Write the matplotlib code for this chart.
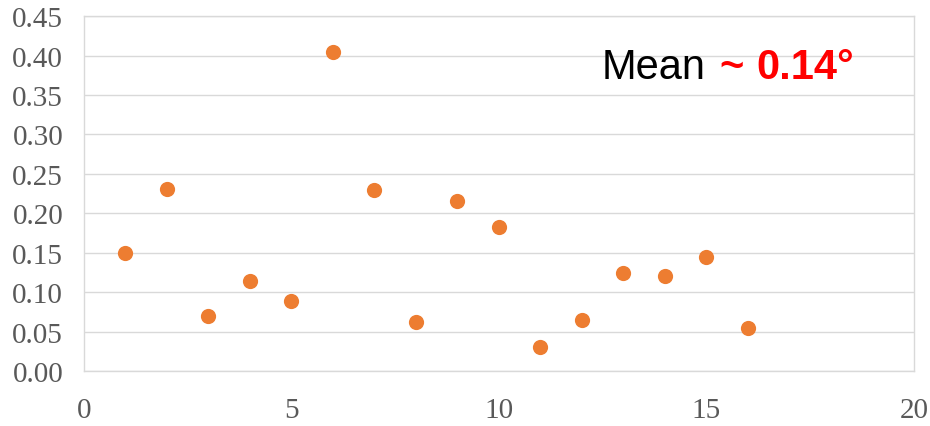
import matplotlib.pyplot as plt
import numpy as np

# run number vs. offset
run = [1, 2, 3, 4, 5, 6, 7, 8, 9, 10, 11, 12, 13, 14, 15, 16]
offset = [0.149, 0.231, 0.070, 0.114, 0.089, 0.405, 0.229, 0.062,
          0.215, 0.183, 0.031, 0.065, 0.124, 0.120, 0.145, 0.055]

xticks = [0, 5, 10, 15, 20]
yticks = np.arange(0, 0.46, 0.05)

fig = plt.figure(figsize=(9.3, 4.27), dpi=100)
ax = fig.add_axes([0.0903, 0.1288, 0.8925, 0.8312])

ax.scatter(run, offset, s=120, color='#ED7D31', zorder=3, linewidths=0)

ax.set_xlim(0, 20)
ax.set_ylim(0, 0.45)
ax.set_xticks(xticks)
ax.set_yticks(yticks)
ax.set_yticklabels(['%.2f' % v for v in yticks])
ax.grid(axis='y', color='#D9D9D9', lw=1)
ax.set_axisbelow(True)
for s in ax.spines.values():
    s.set_color('#D9D9D9')
    s.set_linewidth(1)

ax.tick_params(length=0, labelsize=21, labelcolor='#595959')
ax.tick_params(axis='x', pad=19)
ax.tick_params(axis='y', pad=15)
for lab in ax.get_xticklabels() + ax.get_yticklabels():
    lab.set_family('Liberation Serif')

# annotation
fig.text(602 / 930, 1 - 79 / 427, 'Mean', fontsize=30, family='Liberation Sans',
         color='black', va='baseline')
fig.text(719 / 930, 1 - 79 / 427, '~', fontsize=30, family='Liberation Sans',
         color='red', weight='bold', va='baseline')
fig.text(756 / 930, 1 - 79 / 427, '0.14\u00b0', fontsize=30, family='Liberation Sans',
         color='red', weight='bold', va='baseline')

fig.savefig('out.png', dpi=100)
